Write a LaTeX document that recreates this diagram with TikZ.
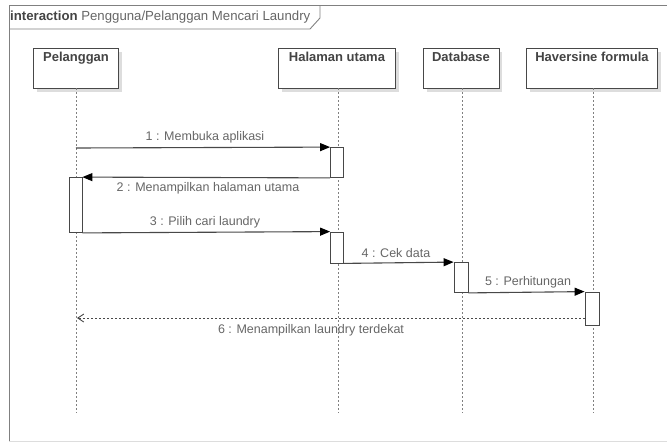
\documentclass[tikz,border=0pt]{standalone}
\usepackage{fontspec}
\setmainfont{Liberation Sans}
\usetikzlibrary{arrows.meta}
\definecolor{lncol}{HTML}{484848}
\definecolor{txcol}{HTML}{666666}
\definecolor{hdcol}{HTML}{444444}
\definecolor{shcol}{HTML}{DDDDDD}
\begin{document}
\begin{tikzpicture}[x=1pt,y=-1pt,
  head/.style={draw=lncol,line width=0.9pt,fill=white,anchor=north,text height=9.5pt,text depth=23pt,inner ysep=3.5pt,inner xsep=0pt,font=\fontsize{13}{15}\selectfont\bfseries,text=hdcol},
  shadowbox/.style={fill=shcol,draw=none},
  lifeline/.style={draw=gray,line width=0.8pt,dash pattern=on 2pt off 2pt},
  act/.style={draw=lncol,line width=0.8pt,fill=white},
  msg/.style={draw=lncol,line width=1.1pt,-{Triangle[length=10pt,width=8pt,fill=black,color=black]}},
  ret/.style={draw=lncol,line width=0.9pt,dash pattern=on 2pt off 2pt,-{Straight Barb[length=6pt,width=8pt]}},
  lbl/.style={font=\fontsize{12.5}{14}\selectfont,text=txcol,inner sep=0pt}]
\useasboundingbox (0,0) rectangle (667,442);
% frame
\draw[draw=gray,line width=1pt] (667,5) -- (9,5) -- (9,441);
\draw[draw=shcol,line width=1pt] (9,441) -- (667,441);
\draw[draw=gray,line width=0.9pt] (9,29) -- (310,29) -- (320,18) -- (320,5);
\node[anchor=west,inner sep=0pt,font=\fontsize{13.2}{15}\selectfont,text=hdcol] (title) at (10,17) {\textbf{interaction} \textcolor{txcol}{Pengguna/Pelanggan Mencari Laundry}};
% shadows of headers
\fill[shadowbox] (37,52) rectangle (122,92);
\fill[shadowbox] (282,52) rectangle (399,92);
\fill[shadowbox] (427,52) rectangle (502,92);
\fill[shadowbox] (530,52) rectangle (661,92);
% headers
\node[head,minimum width=85pt] (p) at (76,48) {Pelanggan};
\node[head,minimum width=117pt] (h) at (337,48) {Halaman utama};
\node[head,minimum width=76pt] (d) at (461,48) {Database};
\node[head,minimum width=131pt] (f) at (592,48) {Haversine formula};
% lifeline ends
\coordinate (pe) at (76,413);
\coordinate (he) at (338,413);
\coordinate (de) at (462,413);
\coordinate (fe) at (593,413);
\draw[lifeline] (76,88) -- (pe);
\draw[lifeline] (338,88) -- (he);
\draw[lifeline] (462,88) -- (de);
\draw[lifeline] (593,88) -- (fe);
% activations
\node[act,minimum width=13pt,minimum height=30pt,inner sep=0pt] (h1) at (337,162.5) {};
\node[act,minimum width=13pt,minimum height=55pt,inner sep=0pt] (p1) at (75.5,205) {};
\node[act,minimum width=13pt,minimum height=31pt,inner sep=0pt] (h2) at (337,247.5) {};
\node[act,minimum width=14pt,minimum height=30pt,inner sep=0pt] (d1) at (461,277.5) {};
\node[act,minimum width=14pt,minimum height=33pt,inner sep=0pt] (f1) at (592,308.5) {};
% messages
\coordinate (m1s) at (76,148);
\draw[msg] (m1s) -- (h1.north west);
\node[lbl] (l1) at (205,137) {1 : Membuka aplikasi};
\draw[msg] (h1.south west) -- (p1.north east);
\node[lbl] (l2) at (208,188) {2 : Menampilkan halaman utama};
\draw[msg] (p1.south east) -- (h2.north west);
\node[lbl] (l3) at (205,222) {3 : Pilih cari laundry};
\draw[msg] (h2.south east) -- (d1.north west);
\node[lbl] (l4) at (396,253) {4 : Cek data};
\draw[msg] (d1.south east) -- (f1.north west);
\node[lbl] (l5) at (528,282) {5 : Perhitungan};
\coordinate (m6e) at (77,318);
\draw[ret] (f1.west |- 0,318) -- (m6e);
\node[lbl] (l6) at (311,330) {6 : Menampilkan laundry terdekat};
\end{tikzpicture}
\end{document}
